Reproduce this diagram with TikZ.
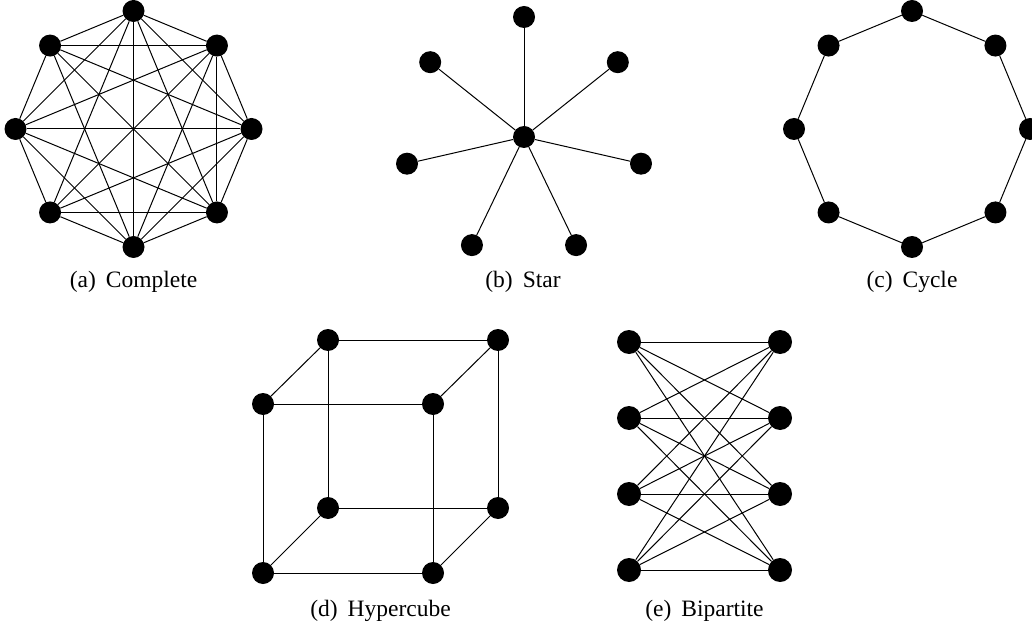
\documentclass[tikz,border=0pt]{standalone}
\usepackage{fontspec}
\setmainfont{Liberation Serif}
\begin{document}
\begin{tikzpicture}[x=1pt,y=1pt,
  vtx/.style={circle,fill=black,inner sep=0pt,minimum size=22pt},
  bvtx/.style={circle,fill=black,inner sep=0pt,minimum size=24pt},
  edge/.style={draw=black,line width=1pt},
  subcap/.style={anchor=base,inner sep=0pt,font=\fontsize{23.5}{28}\selectfont}]
\useasboundingbox (0,0) rectangle (1032,627);
% (a) Complete
\begin{scope}[shift={(133.5,498)}]
  \foreach \k in {0,...,7}{\node[vtx] (c\k) at ({90+45*\k}:118) {};}
  \foreach \i in {0,...,6}{
    \pgfmathtruncatemacro\kk{\i+1}
    \foreach \j in {\kk,...,7}{
      \ifnum\i=1 \ifnum\j=3 \else \draw[edge] (c\i) -- (c\j);\fi
      \else \draw[edge] (c\i) -- (c\j);\fi
    }
  }
\end{scope}
\node[subcap] (capa) at (133.5,339) {(a)\kern10pt Complete};
% (b) Star
\begin{scope}[shift={(524,490)}]
  \node[vtx] (s0) at (0,0) {};
  \foreach \k in {1,...,7}{\node[vtx] (s\k) at ({90+(\k-1)*360/7}:120) {};
    \draw[edge] (s0) -- (s\k);}
\end{scope}
\node[subcap] (capb) at (523,339) {(b)\kern10pt Star};
% (c) Cycle
\begin{scope}[shift={(912,498)}]
  \foreach \k in {0,...,7}{\node[vtx] (y\k) at ({90+45*\k}:118) {};}
  \foreach \k [remember=\k as \p (initially 7)] in {0,...,7}{\draw[edge] (y\p) -- (y\k);}
\end{scope}
\node[subcap] (capc) at (912,339) {(c)\kern10pt Cycle};
% (d) Hypercube
\node[vtx] (h1) at (263,223) {};
\node[vtx] (h2) at (433,223) {};
\node[vtx] (h3) at (263,54) {};
\node[vtx] (h4) at (433,54) {};
\node[vtx] (h5) at (328,287) {};
\node[vtx] (h6) at (498,287) {};
\node[vtx] (h7) at (328,119) {};
\node[vtx] (h8) at (498,119) {};
\draw[edge] (h1) -- (h2) (h2) -- (h4) (h4) -- (h3) (h3) -- (h1);
\draw[edge] (h5) -- (h6) (h6) -- (h8) (h8) -- (h7) (h7) -- (h5);
\draw[edge] (h1) -- (h5) (h2) -- (h6) (h3) -- (h7) (h4) -- (h8);
\node[subcap] (capd) at (380.5,11) {(d)\kern10pt Hypercube};
% (e) Bipartite
\foreach \k/\yy in {1/285,2/209,3/133,4/57}{
  \node[bvtx] (l\k) at (629,\yy) {};
  \node[bvtx] (r\k) at (780,\yy) {};
}
\foreach \i in {1,...,4}{\foreach \j in {1,...,4}{\draw[edge] (l\i) -- (r\j);}}
\node[subcap] (cape) at (704.5,11) {(e)\kern10pt Bipartite};
\end{tikzpicture}
\end{document}
